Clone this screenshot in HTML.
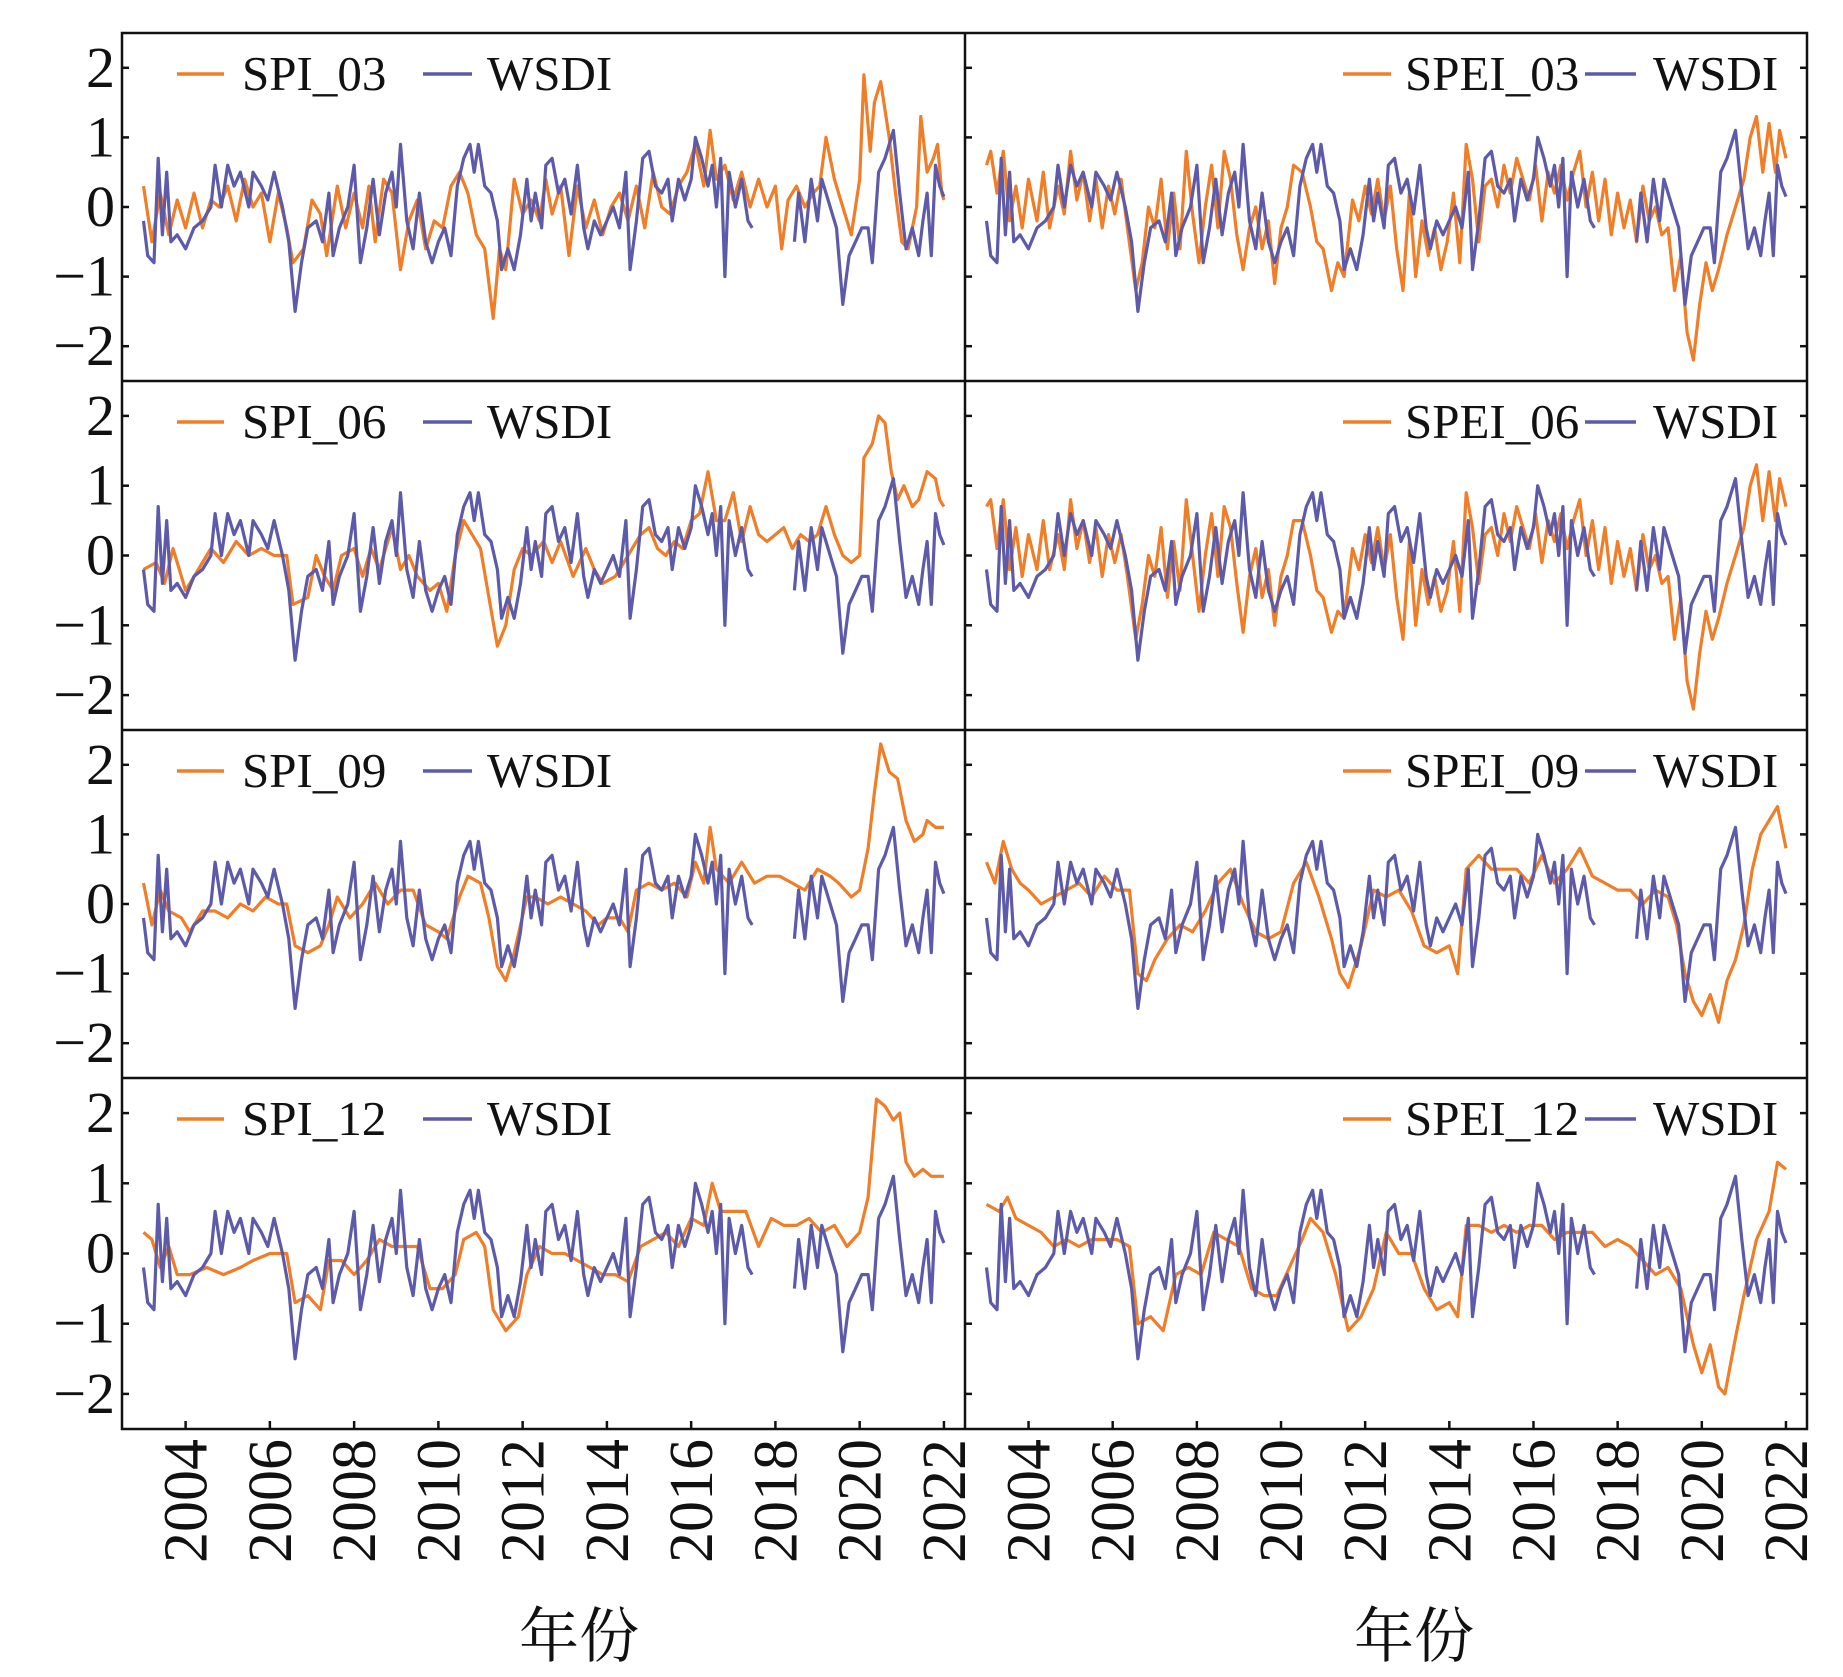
<!DOCTYPE html>
<html><head><meta charset="utf-8"><style>
html,body{margin:0;padding:0;background:#fff;}
svg{display:block;}
text{font-family:"Liberation Serif","Noto Serif CJK SC",serif;fill:#111;}
</style></head>
<body>
<svg id="chart" width="1843" height="1677" viewBox="0 0 1843 1677" xmlns="http://www.w3.org/2000/svg"></svg>
<script>
// ---------- data ----------
const yTicks = [-2,-1,0,1,2];
const yTickLabels = ["−2","−1","0","1","2"];
const xTicks = [2004,2006,2008,2010,2012,2014,2016,2018,2020,2022];
const xTickLabels = ["2004","2006","2008","2010","2012","2014","2016","2018","2020","2022"];
const leftNames = ["SPI_03","SPI_06","SPI_09","SPI_12"];
const rightNames = ["SPEI_03","SPEI_06","SPEI_09","SPEI_12"];

const wsdiT = [2003.0,2003.1,2003.25,2003.35,2003.45,2003.55,2003.65,2003.8,2004.0,2004.2,2004.4,2004.6,2004.7,2004.85,2005.0,2005.15,2005.3,2005.5,2005.6,2005.8,2005.95,2006.1,2006.3,2006.45,2006.6,2006.75,2006.9,2007.1,2007.25,2007.4,2007.5,2007.65,2007.85,2008.0,2008.15,2008.3,2008.45,2008.6,2008.75,2008.9,2009.0,2009.1,2009.25,2009.4,2009.55,2009.7,2009.85,2010.0,2010.15,2010.3,2010.45,2010.6,2010.75,2010.85,2010.95,2011.1,2011.25,2011.4,2011.5,2011.65,2011.8,2011.95,2012.1,2012.2,2012.3,2012.45,2012.55,2012.7,2012.85,2013.0,2013.15,2013.3,2013.45,2013.55,2013.7,2013.85,2014.0,2014.15,2014.3,2014.45,2014.55,2014.7,2014.85,2015.0,2015.15,2015.3,2015.45,2015.55,2015.7,2015.85,2016.0,2016.1,2016.25,2016.4,2016.5,2016.6,2016.7,2016.8,2016.9,2017.05,2017.2,2017.35,2017.45,2017.9,2018.45,2018.55,2018.7,2018.85,2019.0,2019.1,2019.3,2019.45,2019.6,2019.75,2019.9,2020.05,2020.2,2020.3,2020.45,2020.6,2020.8,2020.95,2021.1,2021.25,2021.4,2021.5,2021.6,2021.7,2021.8,2021.9,2022.0];
const wsdiV = [-0.2,-0.7,-0.8,0.7,-0.4,0.5,-0.5,-0.4,-0.6,-0.3,-0.2,0.0,0.6,0.0,0.6,0.3,0.5,0.0,0.5,0.3,0.1,0.5,0.0,-0.5,-1.5,-0.8,-0.3,-0.2,-0.5,0.2,-0.7,-0.3,0.0,0.6,-0.8,-0.3,0.4,-0.4,0.2,0.5,0.0,0.9,-0.2,-0.6,0.2,-0.5,-0.8,-0.5,-0.3,-0.7,0.3,0.7,0.9,0.5,0.9,0.3,0.2,-0.2,-0.9,-0.6,-0.9,-0.4,0.4,-0.2,0.2,-0.3,0.6,0.7,0.2,0.4,-0.1,0.6,-0.3,-0.6,-0.2,-0.4,-0.2,0.0,-0.3,0.5,-0.9,-0.2,0.7,0.8,0.3,0.2,0.4,-0.2,0.4,0.1,0.4,1.0,0.7,0.3,0.6,0.0,0.7,-1.0,0.5,0.0,0.4,-0.2,-0.3,null,-0.5,0.2,-0.5,0.4,-0.2,0.4,0.0,-0.3,-1.4,-0.7,-0.5,-0.3,-0.3,-0.8,0.5,0.7,1.1,0.2,-0.6,-0.3,-0.7,-0.2,0.2,-0.7,0.6,0.3,0.15];

const spi03T = [2003.0,2003.2,2003.4,2003.6,2003.8,2004.0,2004.2,2004.4,2004.6,2004.8,2005.0,2005.2,2005.4,2005.6,2005.8,2006.0,2006.2,2006.4,2006.55,2006.8,2007.0,2007.2,2007.35,2007.6,2007.8,2008.0,2008.2,2008.35,2008.5,2008.7,2008.9,2009.1,2009.3,2009.5,2009.7,2009.9,2010.1,2010.3,2010.5,2010.7,2010.9,2011.1,2011.3,2011.45,2011.6,2011.8,2012.0,2012.2,2012.4,2012.55,2012.7,2012.9,2013.1,2013.3,2013.5,2013.7,2013.9,2014.1,2014.3,2014.5,2014.7,2014.9,2015.1,2015.3,2015.5,2015.7,2015.9,2016.1,2016.3,2016.45,2016.6,2016.8,2017.0,2017.2,2017.4,2017.6,2017.8,2018.0,2018.15,2018.3,2018.5,2018.7,2018.9,2019.05,2019.2,2019.4,2019.6,2019.8,2020.0,2020.1,2020.25,2020.35,2020.5,2020.7,2020.85,2021.0,2021.15,2021.35,2021.45,2021.6,2021.75,2021.85,2021.95,2022.0];
const spi03V = [0.3,-0.5,0.2,-0.4,0.1,-0.3,0.2,-0.3,0.1,0.0,0.3,-0.2,0.4,0.0,0.2,-0.5,0.2,-0.3,-0.8,-0.6,0.1,-0.1,-0.7,0.3,-0.3,0.2,-0.3,0.3,-0.5,0.4,0.2,-0.9,-0.2,0.1,-0.6,-0.2,-0.3,0.3,0.5,0.2,-0.4,-0.6,-1.6,-0.6,-0.9,0.4,-0.1,0.1,-0.2,0.4,-0.1,0.3,-0.7,0.3,-0.3,0.1,-0.4,0.0,0.2,-0.2,0.3,-0.3,0.5,0.0,-0.1,0.3,0.5,0.9,0.3,1.1,0.4,0.6,0.1,0.5,0.0,0.4,0.0,0.3,-0.6,0.1,0.3,0.0,0.2,0.3,1.0,0.4,0.0,-0.4,0.4,1.9,0.8,1.5,1.8,1.0,0.2,-0.5,-0.6,0.0,1.3,0.5,0.7,0.9,0.2,0.1];

const spi06T = [2003.0,2003.3,2003.5,2003.7,2004.0,2004.3,2004.6,2004.9,2005.2,2005.5,2005.8,2006.1,2006.4,2006.55,2006.9,2007.1,2007.3,2007.5,2007.7,2008.0,2008.2,2008.4,2008.6,2008.9,2009.1,2009.3,2009.5,2009.8,2010.0,2010.2,2010.4,2010.6,2010.8,2011.0,2011.2,2011.4,2011.6,2011.8,2012.0,2012.2,2012.5,2012.7,2012.9,2013.2,2013.5,2013.7,2013.9,2014.2,2014.4,2014.6,2014.8,2015.0,2015.2,2015.4,2015.6,2015.8,2016.0,2016.2,2016.4,2016.6,2016.8,2017.0,2017.2,2017.4,2017.6,2017.8,2018.0,2018.2,2018.4,2018.6,2018.8,2019.0,2019.2,2019.4,2019.6,2019.8,2020.0,2020.1,2020.3,2020.45,2020.6,2020.75,2020.9,2021.05,2021.25,2021.4,2021.6,2021.8,2021.9,2022.0];
const spi06V = [-0.2,-0.1,-0.4,0.1,-0.5,-0.2,0.1,-0.1,0.2,0.0,0.1,0.0,0.0,-0.7,-0.6,0.0,-0.3,-0.5,0.0,0.1,-0.3,0.1,-0.2,0.4,-0.2,0.0,-0.3,-0.5,-0.4,-0.8,0.0,0.5,0.3,0.1,-0.6,-1.3,-1.0,-0.2,0.1,0.0,0.2,-0.1,0.2,-0.3,0.1,-0.2,-0.4,-0.3,-0.1,0.1,0.3,0.4,0.1,0.0,0.2,0.1,0.5,0.6,1.2,0.5,0.5,0.9,0.2,0.7,0.3,0.2,0.3,0.4,0.1,0.3,0.2,0.3,0.7,0.3,0.0,-0.1,0.0,1.4,1.6,2.0,1.9,1.2,0.8,1.0,0.7,0.8,1.2,1.1,0.8,0.7];

const spi09T = [2003.0,2003.2,2003.4,2003.6,2003.9,2004.1,2004.4,2004.7,2005.0,2005.3,2005.6,2005.9,2006.2,2006.4,2006.6,2006.9,2007.2,2007.4,2007.6,2007.9,2008.2,2008.5,2008.8,2009.1,2009.4,2009.7,2010.0,2010.2,2010.5,2010.7,2011.0,2011.2,2011.4,2011.6,2011.8,2012.1,2012.3,2012.6,2012.9,2013.2,2013.5,2013.8,2014.0,2014.3,2014.5,2014.7,2015.0,2015.3,2015.6,2015.9,2016.1,2016.3,2016.45,2016.6,2016.9,2017.2,2017.5,2017.8,2018.1,2018.4,2018.7,2019.0,2019.3,2019.5,2019.8,2020.0,2020.2,2020.35,2020.5,2020.7,2020.9,2021.1,2021.3,2021.5,2021.6,2021.8,2022.0];
const spi09V = [0.3,-0.3,0.2,-0.1,-0.2,-0.4,-0.1,-0.1,-0.2,0.0,-0.1,0.1,0.0,0.0,-0.6,-0.7,-0.6,-0.3,0.1,-0.2,0.0,0.3,0.0,0.2,0.2,-0.3,-0.4,-0.5,0.1,0.4,0.3,-0.2,-0.9,-1.1,-0.7,0.1,0.1,0.0,0.1,0.0,-0.1,-0.3,-0.2,-0.2,-0.4,0.2,0.3,0.2,0.3,0.1,0.6,0.3,1.1,0.5,0.3,0.6,0.3,0.4,0.4,0.3,0.2,0.5,0.4,0.3,0.1,0.2,0.8,1.6,2.3,1.9,1.8,1.2,0.9,1.0,1.2,1.1,1.1];

const spi12T = [2003.0,2003.2,2003.4,2003.6,2003.8,2004.1,2004.5,2004.9,2005.3,2005.6,2006.0,2006.4,2006.6,2006.9,2007.2,2007.4,2007.7,2008.0,2008.3,2008.6,2008.9,2009.2,2009.5,2009.8,2010.1,2010.4,2010.6,2010.9,2011.1,2011.3,2011.6,2011.9,2012.1,2012.4,2012.7,2013.0,2013.3,2013.6,2013.9,2014.2,2014.5,2014.8,2015.1,2015.4,2015.7,2016.0,2016.3,2016.5,2016.7,2017.0,2017.3,2017.6,2017.9,2018.2,2018.5,2018.8,2019.1,2019.4,2019.7,2020.0,2020.2,2020.4,2020.6,2020.8,2020.95,2021.1,2021.3,2021.5,2021.7,2022.0];
const spi12V = [0.3,0.2,-0.2,0.1,-0.3,-0.3,-0.2,-0.3,-0.2,-0.1,0.0,0.0,-0.7,-0.6,-0.8,-0.1,-0.1,-0.3,-0.1,0.2,0.1,0.1,0.1,-0.5,-0.5,-0.3,0.2,0.3,0.1,-0.8,-1.1,-0.9,-0.3,0.1,0.0,0.0,-0.1,-0.2,-0.3,-0.3,-0.4,0.1,0.2,0.3,0.1,0.5,0.4,1.0,0.6,0.6,0.6,0.1,0.5,0.4,0.4,0.5,0.3,0.4,0.1,0.3,0.8,2.2,2.1,1.9,2.0,1.3,1.1,1.2,1.1,1.1];

const spei03T = [2003.0,2003.1,2003.25,2003.4,2003.55,2003.7,2003.85,2004.0,2004.2,2004.35,2004.5,2004.7,2004.85,2005.0,2005.15,2005.3,2005.45,2005.6,2005.75,2005.9,2006.05,2006.2,2006.35,2006.55,2006.7,2006.85,2007.0,2007.15,2007.3,2007.45,2007.6,2007.75,2007.9,2008.05,2008.2,2008.35,2008.5,2008.65,2008.8,2008.95,2009.1,2009.25,2009.4,2009.55,2009.7,2009.85,2010.0,2010.15,2010.3,2010.5,2010.7,2010.85,2011.0,2011.2,2011.35,2011.5,2011.7,2011.85,2012.0,2012.15,2012.3,2012.45,2012.6,2012.75,2012.9,2013.05,2013.2,2013.35,2013.5,2013.65,2013.8,2013.95,2014.1,2014.25,2014.4,2014.55,2014.7,2014.85,2015.0,2015.15,2015.3,2015.45,2015.6,2015.75,2015.9,2016.05,2016.2,2016.35,2016.5,2016.65,2016.8,2016.95,2017.1,2017.25,2017.4,2017.55,2017.7,2017.85,2018.0,2018.15,2018.3,2018.45,2018.6,2018.75,2018.9,2019.05,2019.2,2019.35,2019.5,2019.65,2019.8,2019.95,2020.1,2020.25,2020.4,2020.6,2020.8,2021.0,2021.15,2021.3,2021.45,2021.6,2021.75,2021.85,2022.0];
const spei03V = [0.6,0.8,0.2,0.8,-0.2,0.3,-0.3,0.4,-0.2,0.5,-0.3,0.3,-0.1,0.8,0.1,0.5,-0.2,0.4,-0.3,0.3,-0.1,0.4,-0.3,-1.2,-0.8,0.0,-0.3,0.4,-0.6,0.2,-0.6,0.8,-0.1,-0.8,0.0,0.6,-0.3,0.8,0.4,-0.4,-0.9,-0.3,0.0,-0.6,-0.2,-1.1,-0.3,0.0,0.6,0.5,0.0,-0.5,-0.6,-1.2,-0.8,-1.0,0.1,-0.2,0.3,-0.1,0.4,-0.2,0.3,-0.6,-1.2,0.2,-1.0,-0.2,-0.7,-0.3,-0.9,-0.5,0.2,-0.8,0.9,0.4,-0.5,0.3,0.4,0.0,0.6,0.2,0.7,0.4,0.1,0.6,-0.2,0.5,0.2,0.6,0.1,0.5,0.8,0.0,0.5,-0.2,0.4,-0.4,0.2,-0.3,0.1,-0.5,0.3,-0.2,0.0,-0.4,-0.3,-1.2,-0.7,-1.8,-2.2,-1.4,-0.8,-1.2,-0.9,-0.4,0.0,0.4,1.0,1.3,0.5,1.2,0.5,1.1,0.7];
const spei06V = [0.7,0.8,0.1,0.8,-0.2,0.4,-0.3,0.3,-0.2,0.5,-0.2,0.3,-0.2,0.8,0.1,0.5,-0.1,0.4,-0.3,0.3,-0.1,0.3,-0.3,-1.2,-0.7,0.0,-0.3,0.4,-0.6,0.2,-0.5,0.8,0.0,-0.8,0.0,0.6,-0.3,0.7,0.4,-0.4,-1.1,-0.3,0.1,-0.6,-0.2,-1.0,-0.3,0.0,0.5,0.5,0.0,-0.5,-0.6,-1.1,-0.8,-0.9,0.1,-0.2,0.3,-0.1,0.4,-0.2,0.3,-0.6,-1.2,0.2,-1.0,-0.2,-0.7,-0.3,-0.8,-0.5,0.2,-0.8,0.9,0.4,-0.4,0.3,0.4,0.0,0.6,0.2,0.7,0.4,0.1,0.6,-0.1,0.5,0.2,0.6,0.1,0.5,0.8,0.0,0.5,-0.2,0.4,-0.4,0.2,-0.3,0.1,-0.5,0.3,-0.2,0.0,-0.4,-0.3,-1.2,-0.6,-1.8,-2.2,-1.4,-0.8,-1.2,-0.9,-0.4,0.0,0.4,1.0,1.3,0.5,1.2,0.5,1.1,0.7];

const spei09T = [2003.0,2003.2,2003.4,2003.6,2003.8,2004.0,2004.3,2004.6,2004.9,2005.2,2005.5,2005.8,2006.1,2006.4,2006.6,2006.8,2007.0,2007.3,2007.6,2007.9,2008.2,2008.5,2008.8,2009.1,2009.4,2009.7,2010.0,2010.3,2010.6,2010.9,2011.2,2011.4,2011.6,2011.9,2012.2,2012.5,2012.8,2013.1,2013.4,2013.7,2014.0,2014.2,2014.4,2014.7,2015.0,2015.3,2015.6,2015.9,2016.2,2016.5,2016.8,2017.1,2017.4,2017.7,2018.0,2018.3,2018.6,2018.9,2019.2,2019.4,2019.6,2019.8,2020.0,2020.2,2020.4,2020.6,2020.8,2021.0,2021.2,2021.4,2021.6,2021.8,2022.0];
const spei09V = [0.6,0.3,0.9,0.5,0.3,0.2,0.0,0.1,0.2,0.3,0.1,0.4,0.2,0.2,-1.0,-1.1,-0.8,-0.5,-0.3,-0.4,-0.1,0.3,0.5,0.0,-0.4,-0.5,-0.4,0.3,0.6,0.1,-0.5,-1.0,-1.2,-0.6,0.2,0.1,0.2,-0.1,-0.6,-0.7,-0.6,-1.0,0.5,0.7,0.5,0.5,0.5,0.3,0.7,0.3,0.5,0.8,0.4,0.3,0.2,0.2,0.0,0.2,0.1,-0.3,-1.0,-1.4,-1.6,-1.3,-1.7,-1.1,-0.8,-0.3,0.5,1.0,1.2,1.4,0.8];

const spei12T = [2003.0,2003.3,2003.5,2003.7,2004.0,2004.3,2004.6,2004.9,2005.2,2005.5,2005.8,2006.1,2006.4,2006.6,2006.9,2007.2,2007.5,2007.8,2008.1,2008.4,2008.7,2009.0,2009.3,2009.6,2009.9,2010.2,2010.5,2010.7,2011.0,2011.3,2011.6,2011.9,2012.2,2012.5,2012.8,2013.1,2013.4,2013.7,2014.0,2014.2,2014.4,2014.7,2015.0,2015.3,2015.6,2015.9,2016.2,2016.5,2016.8,2017.1,2017.4,2017.7,2018.0,2018.3,2018.6,2018.9,2019.2,2019.5,2019.8,2020.0,2020.2,2020.4,2020.55,2020.8,2021.0,2021.3,2021.6,2021.8,2022.0];
const spei12V = [0.7,0.6,0.8,0.5,0.4,0.3,0.1,0.2,0.1,0.2,0.2,0.2,0.1,-1.0,-0.9,-1.1,-0.3,-0.2,-0.3,0.3,0.2,0.1,-0.5,-0.6,-0.6,-0.2,0.2,0.5,0.3,-0.3,-1.1,-0.9,-0.5,0.3,0.0,0.0,-0.5,-0.8,-0.7,-0.9,0.4,0.4,0.3,0.4,0.3,0.4,0.4,0.2,0.3,0.3,0.3,0.1,0.2,0.1,-0.1,-0.3,-0.2,-0.5,-1.3,-1.7,-1.3,-1.9,-2.0,-1.2,-0.6,0.2,0.6,1.3,1.2];

// ---------- layout ----------
const NS = "http://www.w3.org/2000/svg";
const svg = document.getElementById('chart');
const X0 = 122, XM = 965, X1 = 1807;
const rowsY = [33, 381, 730, 1078, 1429];
const yMin = -2.5, yMax = 2.5, tMin = 2002.49, tMax = 2022.5;
const ORANGE = "#f07d28", PURPLE = "#5d5aaa";

function mk(tag, attrs){ const e=document.createElementNS(NS,tag); for(const k in attrs) e.setAttribute(k,attrs[k]); svg.appendChild(e); return e; }
function xScale(t, left, right){ return left + (t - tMin)/(tMax - tMin)*(right-left); }
function yScale(v, top, bot){ return bot - (v - yMin)/(yMax - yMin)*(bot-top); }
function pathD(T, V, left, right, top, bot){
  let d="", pen=false;
  for(let i=0;i<T.length;i++){
    if(V[i]===null){pen=false;continue;}
    const x=xScale(T[i],left,right).toFixed(1), y=yScale(V[i],top,bot).toFixed(1);
    d += (pen?"L":"M")+x+" "+y+" "; pen=true;
  }
  return d;
}

const leftSeries = [[spi03T,spi03V],[spi06T,spi06V],[spi09T,spi09V],[spi12T,spi12V]];
const rightSeries = [[spei03T,spei03V],[spei03T,spei06V],[spei09T,spei09V],[spei12T,spei12V]];

for(let r=0;r<4;r++){
  const top=rowsY[r], bot=rowsY[r+1];
  for(let c=0;c<2;c++){
    const left = c===0?X0:XM, right = c===0?XM:X1;
    const s = c===0?leftSeries[r]:rightSeries[r];
    const o = mk('path',{d:pathD(s[0],s[1],left,right,top,bot),fill:'none',stroke:ORANGE,'stroke-width':3.2,'stroke-linejoin':'round'});
    
    
    const w = mk('path',{d:pathD(wsdiT,wsdiV,left,right,top,bot),fill:'none',stroke:PURPLE,'stroke-width':3.2,'stroke-linejoin':'round'});
    
    
    for(const v of yTicks){
      const y=yScale(v,top,bot);
      const tk = mk('line',{x1:left,x2:left+7,y1:y,y2:y,stroke:'#111','stroke-width':2.5});
      
      
      if(c===1){
        const tk2 = mk('line',{x1:right,x2:right-7,y1:y,y2:y,stroke:'#111','stroke-width':2.5});
        
        
      }
    }
    const ly = top + 41;
    const lx = c===0 ? [177,224,242,423,472,487] : [1343,1391,1405,1585,1636,1653];
    const l1 = mk('line',{x1:lx[0],x2:lx[1],y1:ly,y2:ly,stroke:ORANGE,'stroke-width':3.4});
    
    
    const t1 = mk('text',{x:lx[2],y:ly+16,'font-size':49});
    t1.textContent = c===0?leftNames[r]:rightNames[r];
    
    
    const l2 = mk('line',{x1:lx[3],x2:lx[4],y1:ly,y2:ly,stroke:PURPLE,'stroke-width':3.4});
    
    
    const t2 = mk('text',{x:lx[5],y:ly+16,'font-size':49});
    t2.textContent = "WSDI";
    
    
  }
  for(let i=0;i<yTicks.length;i++){
    const y=yScale(yTicks[i],top,bot);
    const tl = mk('text',{x:115,y:y+19,'font-size':58,'text-anchor':'end'});
    tl.textContent = yTickLabels[i];
    
    
  }
  if(r>0){
    const sep = mk('line',{x1:X0,x2:X1,y1:top,y2:top,stroke:'#111','stroke-width':2.5});
    
    
  }
}
const fr = mk('rect',{x:X0,y:rowsY[0],width:X1-X0,height:rowsY[4]-rowsY[0],fill:'none',stroke:'#111','stroke-width':2.5});


const vd = mk('line',{x1:XM,x2:XM,y1:rowsY[0],y2:rowsY[4],stroke:'#111','stroke-width':2.5});



for(let c=0;c<2;c++){
  const left = c===0?X0:XM, right = c===0?XM:X1;
  for(let i=0;i<xTicks.length;i++){
    const x = xScale(xTicks[i],left,right);
    const tk = mk('line',{x1:x,x2:x,y1:rowsY[4],y2:rowsY[4]-8,stroke:'#111','stroke-width':2.5});
    
    
    const tl = mk('text',{x:0,y:0,'font-size':62,'text-anchor':'end',transform:`translate(${x+21},1439) rotate(-90)`});
    tl.textContent = xTickLabels[i];
    
    
  }
  const at = mk('text',{x:c===0?579:1414,y:1657,'font-size':60,'text-anchor':'middle'});
  at.textContent = "年份";
  
  
}
</script>
</body></html>
